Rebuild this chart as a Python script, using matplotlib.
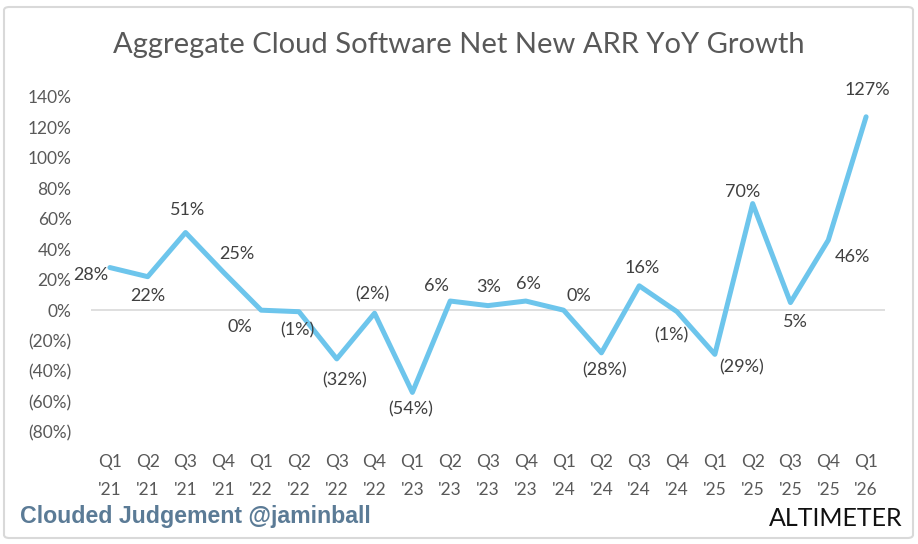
import matplotlib
matplotlib.use("Agg")
import matplotlib.pyplot as plt
from matplotlib import font_manager
from matplotlib.patches import FancyBboxPatch

# data
quarters = ["Q1\n'21", "Q2\n'21", "Q3\n'21", "Q4\n'21",
            "Q1\n'22", "Q2\n'22", "Q3\n'22", "Q4\n'22",
            "Q1\n'23", "Q2\n'23", "Q3\n'23", "Q4\n'23",
            "Q1\n'24", "Q2\n'24", "Q3\n'24", "Q4\n'24",
            "Q1\n'25", "Q2\n'25", "Q3\n'25", "Q4\n'25",
            "Q1\n'26"]
growth = [28, 22, 51, 25, 0, -1, -32, -2, -54, 6, 3, 6,
          0, -28, 16, -1, -29, 70, 5, 46, 127]
y_ticks = [140, 120, 100, 80, 60, 40, 20, 0, -20, -40, -60, -80]

# where each data label sits relative to its point (pixels, x right / y up)
label_offsets = [(-19, -7), (0, -19), (2, 23), (13, 18), (-21, -17), (-2, -19),
                 (8, -21), (-2, 19), (-2, -17), (-14, 15), (1, 19), (3, 17),
                 (15, 14), (3, -18), (3, 18), (-6, -24), (27, -13), (-10, 12),
                 (5, -19), (24, -17), (1, 27)]

installed = {f.name for f in font_manager.fontManager.ttflist}
main_font = "Lato" if "Lato" in installed else "DejaVu Sans"
narrow_font = "Liberation Sans Narrow" if "Liberation Sans Narrow" in installed else main_font


def pct(v):
    if v < 0:
        return "(%d%%)" % abs(v)
    return "%d%%" % v


W, H = 918, 544
fig = plt.figure(figsize=(W / 100, H / 100), dpi=100)
fig.patch.set_facecolor("white")

# outer border
fig.patches.append(FancyBboxPatch((4 / W, 6 / H), 909 / W, 531 / H,
                                  boxstyle="round,pad=0,rounding_size=0.006",
                                  transform=fig.transFigure, fill=False,
                                  edgecolor="#d9d9d9", linewidth=1.5))

ax = fig.add_axes([91 / W, (H - 432) / H, (885 - 91) / W, (432 - 97) / H])
x = list(range(len(growth)))
ax.plot(x, growth, color="#6DC5EC", linewidth=3.6, solid_joinstyle="round",
        solid_capstyle="round", zorder=3)
ax.axhline(0, color="#d9d9d9", linewidth=1.2, zorder=1)

for xi, v, (dx, dy) in zip(x, growth, label_offsets):
    ax.annotate(pct(v), (xi, v), xytext=(dx, dy), textcoords="offset pixels",
                ha="center", va="center", fontsize=13, color="#404040",
                family=main_font, zorder=4)

ax.set_xlim(-0.5, len(growth) - 0.5)
ax.set_ylim(-80, 140)
ax.set_yticks(y_ticks)
ax.set_yticklabels([pct(t) for t in y_ticks], family=main_font, fontsize=12.5,
                   color="#595959")
ax.set_xticks(x)
ax.set_xticklabels(quarters, family=narrow_font, fontsize=12.5, color="#595959",
                   linespacing=1.9)
ax.tick_params(axis="y", length=0, pad=14)
ax.tick_params(axis="x", length=0, pad=16)
for s in ax.spines.values():
    s.set_visible(False)

fig.text(459 / W, (H - 45) / H, "Aggregate Cloud Software Net New ARR YoY Growth",
         ha="center", va="center", fontsize=21, color="#595959", family=main_font)

fig.text(20 / W, (H - 516) / H, "Clouded Judgement @jaminball", ha="left",
         va="center", fontsize=16.7, fontweight="bold", color="#5B7B96",
         family="Liberation Sans")
fig.text(903 / W, (H - 518) / H, "ALTIMETER", ha="right", va="center",
         fontsize=18, fontweight="normal", color="#111111", family=main_font)

fig.savefig("out.png", dpi=100)
